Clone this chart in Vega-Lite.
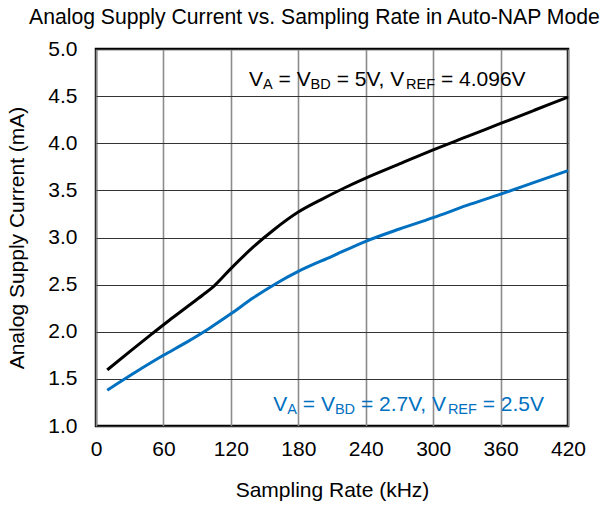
{
  "$schema": "https://vega.github.io/schema/vega-lite/v6.json",
  "width": 472,
  "height": 377,
  "autosize": {"type": "none"},
  "padding": {"left": 96, "top": 49, "right": 41, "bottom": 79},
  "background": "white",
  "title": {
    "text": "Analog Supply Current vs. Sampling Rate in Auto-NAP Mode",
    "font": "Liberation Sans",
    "fontSize": 21.2,
    "fontWeight": "normal",
    "color": "black",
    "anchor": "start",
    "frame": "group",
    "dx": -67,
    "offset": 10
  },
  "config": {
    "view": {"stroke": "black", "strokeWidth": 2.5},
    "font": "Liberation Sans",
    "axis": {
      "labelFont": "Liberation Sans",
      "labelFontSize": 21,
      "labelColor": "black",
      "labelFlush": false,
      "titleFont": "Liberation Sans",
      "titleFontSize": 21,
      "titleFontWeight": "normal",
      "titleColor": "black",
      "domain": false,
      "ticks": false
    }
  },
  "datasets": {
    "curves": [
      {"series": "5V", "rate": 10, "current": 1.595},
      {"series": "5V", "rate": 30, "current": 1.79},
      {"series": "5V", "rate": 50, "current": 1.98},
      {"series": "5V", "rate": 65, "current": 2.12},
      {"series": "5V", "rate": 80, "current": 2.255},
      {"series": "5V", "rate": 95, "current": 2.39},
      {"series": "5V", "rate": 105, "current": 2.485},
      {"series": "5V", "rate": 120, "current": 2.67},
      {"series": "5V", "rate": 140, "current": 2.9},
      {"series": "5V", "rate": 158, "current": 3.08},
      {"series": "5V", "rate": 180, "current": 3.27},
      {"series": "5V", "rate": 200, "current": 3.4},
      {"series": "5V", "rate": 220, "current": 3.52},
      {"series": "5V", "rate": 240, "current": 3.63},
      {"series": "5V", "rate": 270, "current": 3.78},
      {"series": "5V", "rate": 300, "current": 3.93},
      {"series": "5V", "rate": 330, "current": 4.07},
      {"series": "5V", "rate": 360, "current": 4.21},
      {"series": "5V", "rate": 390, "current": 4.35},
      {"series": "5V", "rate": 420, "current": 4.49},
      {"series": "2.7V", "rate": 10, "current": 1.38},
      {"series": "2.7V", "rate": 35, "current": 1.57},
      {"series": "2.7V", "rate": 60, "current": 1.75},
      {"series": "2.7V", "rate": 80, "current": 1.885},
      {"series": "2.7V", "rate": 100, "current": 2.03},
      {"series": "2.7V", "rate": 120, "current": 2.19},
      {"series": "2.7V", "rate": 140, "current": 2.36},
      {"series": "2.7V", "rate": 160, "current": 2.51},
      {"series": "2.7V", "rate": 180, "current": 2.64},
      {"series": "2.7V", "rate": 210, "current": 2.8},
      {"series": "2.7V", "rate": 240, "current": 2.96},
      {"series": "2.7V", "rate": 270, "current": 3.09},
      {"series": "2.7V", "rate": 300, "current": 3.21},
      {"series": "2.7V", "rate": 330, "current": 3.34},
      {"series": "2.7V", "rate": 360, "current": 3.46},
      {"series": "2.7V", "rate": 390, "current": 3.585},
      {"series": "2.7V", "rate": 420, "current": 3.71}
    ],
    "notes": [
      {"series": "5V", "part": "main", "rate": 136.14, "current": 4.611, "text": "V"},
      {"series": "5V", "part": "sub", "rate": 148.6, "current": 4.611, "text": "A"},
      {"series": "5V", "part": "main", "rate": 162.43, "current": 4.611, "text": "= V"},
      {"series": "5V", "part": "sub", "rate": 190.96, "current": 4.611, "text": "BD"},
      {"series": "5V", "part": "main", "rate": 214.13, "current": 4.611, "text": "= 5V, V"},
      {"series": "5V", "part": "sub", "rate": 275.94, "current": 4.611, "text": "REF"},
      {"series": "5V", "part": "main", "rate": 306.94, "current": 4.611, "text": "= 4.096V"},
      {"series": "2.7V", "part": "main", "rate": 157.77, "current": 1.162, "text": "V"},
      {"series": "2.7V", "part": "sub", "rate": 170.23, "current": 1.162, "text": "A"},
      {"series": "2.7V", "part": "main", "rate": 184.03, "current": 1.162, "text": "= V"},
      {"series": "2.7V", "part": "sub", "rate": 212.6, "current": 1.162, "text": "BD"},
      {"series": "2.7V", "part": "main", "rate": 235.72, "current": 1.162, "text": "= 2.7V, V"},
      {"series": "2.7V", "part": "sub", "rate": 313.12, "current": 1.162, "text": "REF"},
      {"series": "2.7V", "part": "main", "rate": 344.12, "current": 1.162, "text": "= 2.5V"}
    ]
  },
  "encoding": {
    "x": {
      "field": "rate",
      "type": "quantitative",
      "scale": {"domain": [0, 420], "nice": false, "zero": false},
      "axis": {
        "title": "Sampling Rate (kHz)",
        "values": [0, 60, 120, 180, 240, 300, 360, 420],
        "grid": true,
        "gridColor": "#8c8c8c",
        "gridWidth": 1.6,
        "labelPadding": 12,
        "titlePadding": 20
      }
    },
    "y": {
      "field": "current",
      "type": "quantitative",
      "scale": {"domain": [1, 5], "nice": false, "zero": false},
      "axis": {
        "title": "Analog Supply Current (mA)",
        "values": [1, 1.5, 2, 2.5, 3, 3.5, 4, 4.5, 5],
        "format": ".1f",
        "grid": true,
        "gridColor": "#333333",
        "gridWidth": 1,
        "labelPadding": 19,
        "titlePadding": 20
      }
    },
    "color": {
      "field": "series",
      "type": "nominal",
      "scale": {"domain": ["5V", "2.7V"], "range": ["#000000", "#0070C0"]},
      "legend": null
    }
  },
  "layer": [
    {
      "data": {"name": "curves"},
      "mark": {"type": "line", "strokeWidth": 3, "interpolate": "monotone"},
      "encoding": {"detail": {"field": "series"}}
    },
    {
      "data": {"name": "notes"},
      "transform": [{"filter": "datum.part === 'main'"}],
      "mark": {"type": "text", "align": "left", "baseline": "alphabetic", "font": "Liberation Sans", "fontSize": 21},
      "encoding": {"text": {"field": "text"}}
    },
    {
      "data": {"name": "notes"},
      "transform": [{"filter": "datum.part === 'sub'"}],
      "mark": {"type": "text", "align": "left", "baseline": "alphabetic", "font": "Liberation Sans", "fontSize": 14.5, "dy": 3.3},
      "encoding": {"text": {"field": "text"}}
    }
  ]
}
